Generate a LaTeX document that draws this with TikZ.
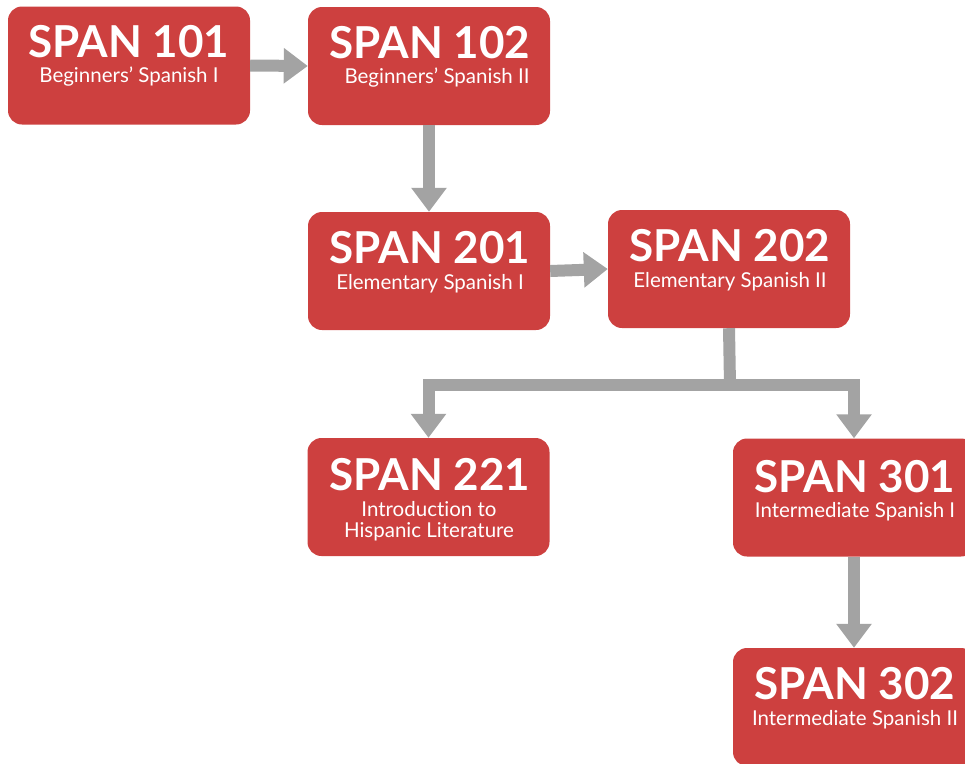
\documentclass[tikz,border=0pt]{standalone}
\usepackage{fontspec}
\setmainfont{Lato}[Ligatures=NoCommon]
\usetikzlibrary{arrows.meta}
\definecolor{boxred}{RGB}{205,64,63}
\definecolor{arrgray}{RGB}{163,163,163}
\tikzset{
  course/.style={rectangle, rounded corners=14pt, fill=boxred, draw=none,
    minimum width=242pt, minimum height=118pt, inner sep=0pt},
  ctitle/.style={text=white, font=\fontsize{44}{44}\selectfont\bfseries, inner sep=0pt},
  csub/.style={text=white, font=\fontsize{20.5}{21.5}\selectfont, inner sep=0pt, align=center},
  conn/.style={draw=arrgray, line width=12pt, line join=miter},
  arr/.style={conn, -{Triangle[length=24pt,width=34pt]}}
}
\begin{document}
\begin{tikzpicture}[x=1pt,y=-1pt]
\useasboundingbox (0,0) rectangle (965,763);
\begin{scope}
\clip (0,0) rectangle (965,763);
\node[course] (b101) at (129,65.5) {};
\node[course] (b102) at (429,66) {};
\node[course] (b201) at (429,271) {};
\node[course] (b202) at (729,269) {};
\node[course] (b221) at (428.5,497) {};
\node[course] (b301) at (854,497.5) {};
\node[course] (b302) at (854,707) {};
\end{scope}
\node[ctitle] (t101) at (129,42) {SPAN 101};
\node[csub] (s101) at (129,77) {Beginners’ Spanish I};
\node[ctitle] (t102) at (430,43) {SPAN 102};
\node[csub] (s102) at (437,78) {Beginners’ Spanish II};
\node[ctitle] (t201) at (430,248) {SPAN 201};
\node[csub] (s201) at (430,284) {Elementary Spanish I};
\node[ctitle] (t202) at (730,246) {SPAN 202};
\node[csub] (s202) at (730,282) {Elementary Spanish II};
\node[ctitle] (t221) at (430,475) {SPAN 221};
\node[csub] (s221) at (429,521) {Introduction to\\Hispanic Literature};
\node[ctitle] (t301) at (855,477) {SPAN 301};
\node[csub] (s301) at (855,512) {Intermediate Spanish I};
\node[ctitle] (t302) at (855,684) {SPAN 302};
\node[csub] (s302) at (855,720) {Intermediate Spanish II};
\coordinate (j) at (730,385);
\draw[arr] (b101.east) -- (b102.west);
\draw[arr] (b102.south) -- (b201.north);
\draw[arr] (b201.east) -- (b202.west);
\draw[conn] (b202.south) -- (j);
\draw[arr] (j) -| (b221.north);
\draw[arr] (j) -| (b301.north);
\draw[arr] (b301.south) -- (b302.north);
\end{tikzpicture}
\end{document}
